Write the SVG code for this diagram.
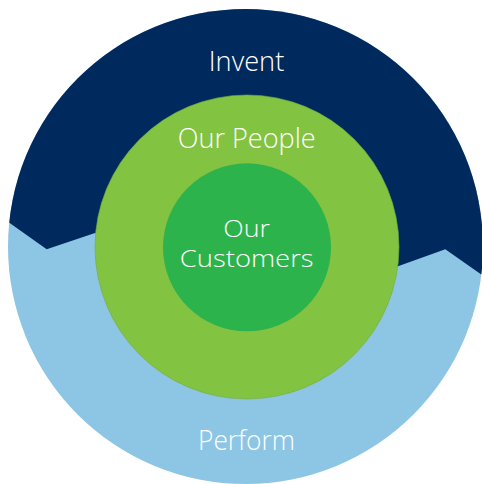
<svg xmlns="http://www.w3.org/2000/svg" width="482" height="484" viewBox="0 0 482 484">
  <style>
    .label { font-family: "Open Sans", "Noto Sans", sans-serif; font-size: 28px; font-weight: 300; fill: #ffffff; text-anchor: middle; }
    .core { font-size: 24px; }
  </style>
  <defs>
    <clipPath id="outerClip">
      <circle cx="245.5" cy="246.5" r="237.5"/>
    </clipPath>
  </defs>

  <!-- Outer ring: Perform (lower) and Invent (upper) -->
  <g id="perform">
    <circle cx="245.5" cy="246.5" r="237.5" fill="#8dc5e4"/>
    <text class="label" x="246.5" y="450" textLength="97" lengthAdjust="spacingAndGlyphs">Perform</text>
  </g>
  <g id="invent">
    <path clip-path="url(#outerClip)" fill="#002a5d"
          d="M0 0 H482 V275 L445.3 249.3 L398.7 266 L247 300 L95 233 L46.7 249.3 L9.3 222.7 L0 216 Z"/>
    <text class="label" x="246.5" y="70.7" textLength="75.5" lengthAdjust="spacingAndGlyphs">Invent</text>
  </g>

  <!-- Middle ring -->
  <g id="our-people">
    <circle cx="247" cy="247" r="152" fill="#82c341" stroke="#74ad3c" stroke-width="0.6"/>
    <text class="label" x="246.7" y="147.7" textLength="138" lengthAdjust="spacingAndGlyphs">Our People</text>
  </g>

  <!-- Core -->
  <g id="our-customers">
    <circle cx="247" cy="247.3" r="84" fill="#2db34b"/>
    <text class="label core" x="246.7" y="236.5" textLength="46.7" lengthAdjust="spacingAndGlyphs">Our</text>
    <text class="label core" x="246.7" y="267.3" textLength="133.7" lengthAdjust="spacingAndGlyphs">Customers</text>
  </g>

  <g id="connectors"/>
</svg>
